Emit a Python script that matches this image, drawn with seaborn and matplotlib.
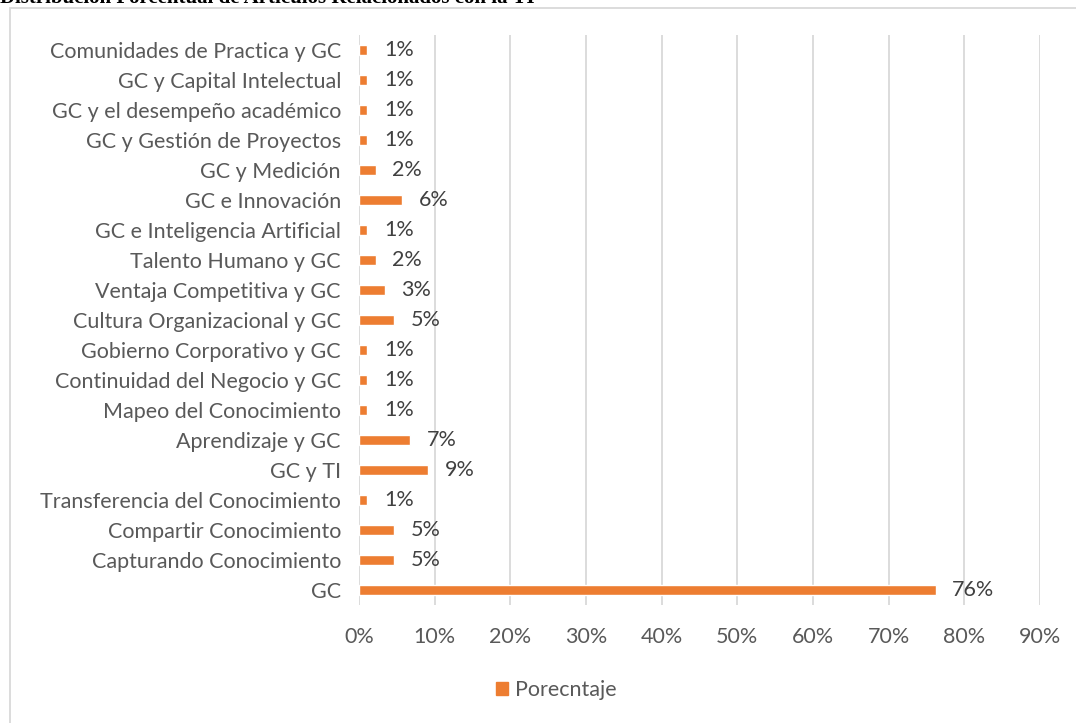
import matplotlib
matplotlib.use("Agg")
import pandas as pd
import seaborn as sns
from matplotlib import pyplot as plt
from matplotlib.patches import Rectangle

categories = [
    "Comunidades de Practica y GC",
    "GC y Capital Intelectual",
    "GC y el desempeño académico",
    "GC y Gestión de Proyectos",
    "GC y Medición",
    "GC e Innovación",
    "GC e Inteligencia Artificial",
    "Talento Humano y GC",
    "Ventaja Competitiva y GC",
    "Cultura Organizacional y GC",
    "Gobierno Corporativo y GC",
    "Continuidad del Negocio y GC",
    "Mapeo del Conocimiento",
    "Aprendizaje y GC",
    "GC y TI",
    "Transferencia del Conocimiento",
    "Compartir Conocimiento",
    "Capturando Conocimiento",
    "GC",
]
percent = [1.1, 1.1, 1.1, 1.1, 2.2, 5.7, 1.1, 2.2, 3.4, 4.6, 1.1, 1.1, 1.1,
           6.8, 9.1, 1.1, 4.6, 4.6, 76.2]
x_ticks = [0, 10, 20, 30, 40, 50, 60, 70, 80, 90]
series_name = "Porecntaje"
title = "Distribución Porcentual de Artículos Relacionados con la TI"

ORANGE = "#ED7D31"
GREY_TXT = "#595959"
GRID = "#D9D9D9"
FS = 15.5

df = pd.DataFrame({"cat": categories, "pct": percent, "serie": series_name})

sns.set_theme(style="white")
plt.rcParams["font.family"] = ["Lato", "DejaVu Sans"]

fig = plt.figure(figsize=(10.76, 7.23), dpi=100)
W, H = 1076, 723
ax = fig.add_axes([359 / W, 1 - 605 / H, (1040 - 359) / W, (605 - 35) / H])

sns.barplot(data=df, x="pct", y="cat", hue="serie", palette=[ORANGE],
            saturation=1, width=0.36, orient="h", ax=ax, legend=False)

ax.set_xlim(0, 90)
ax.set_xticks(x_ticks)
ax.set_xticklabels([f"{t}%" for t in x_ticks])
ax.grid(axis="x", color=GRID, linewidth=1.3)
ax.set_axisbelow(True)
for s in ax.spines.values():
    s.set_visible(False)
ax.tick_params(axis="both", length=0, labelsize=FS, colors=GREY_TXT)
ax.tick_params(axis="x", pad=16)
ax.tick_params(axis="y", pad=13)
ax.set_xlabel("")
ax.set_ylabel("")

for cont in ax.containers:
    ax.bar_label(cont, labels=[f"{v:.0f}%" for v in percent], padding=12,
                 fontsize=FS, color="#404040")

handle = Rectangle((0, 0), 1, 1, color=ORANGE)
fig.legend([handle], [series_name], loc="center", bbox_to_anchor=(556 / W, 1 - 690 / H),
           frameon=False, fontsize=FS, handlelength=0.6, handleheight=0.6,
           handletextpad=0.3, labelcolor=GREY_TXT)

fig.patches.append(Rectangle((10 / W, -0.01), 1.0, 1 - 8 / H + 0.01,
                             transform=fig.transFigure, fill=False,
                             edgecolor=GRID, linewidth=1.3))

fig.text(0.0, 1 - 3 / H, title, fontsize=15, fontweight="bold",
         family="Liberation Serif", va="baseline", ha="left", color="black")

fig.savefig("out.png", dpi=100)
